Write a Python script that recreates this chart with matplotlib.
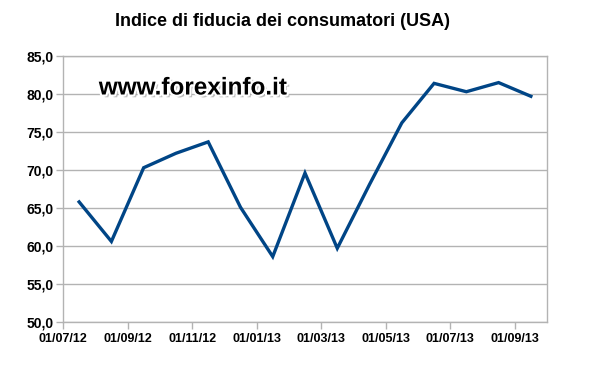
import matplotlib
matplotlib.use("Agg")
import matplotlib.pyplot as plt
import matplotlib.patheffects as pe

months = ["07/12", "08/12", "09/12", "10/12", "11/12", "12/12", "01/13", "02/13",
          "03/13", "04/13", "05/13", "06/13", "07/13", "08/13", "09/13"]
values = [65.8, 60.6, 70.3, 72.2, 73.7, 65.1, 58.6, 69.6, 59.7, 68.1, 76.2, 81.4, 80.3, 81.5, 79.7]
xtick_labels = ["01/07/12", "01/09/12", "01/11/12", "01/01/13", "01/03/13", "01/05/13", "01/07/13", "01/09/13"]
yticks = [50, 55, 60, 65, 70, 75, 80, 85]

plt.rcParams['font.family'] = ['Liberation Sans', 'DejaVu Sans']

fig = plt.figure(figsize=(5.98, 3.83), dpi=100)
ax = fig.add_axes([63/598, 1-322/383, (547-63)/598, (322-56)/383])

x = [i + 0.5 for i in range(len(values))]
ax.plot(x, values, color="#004586", linewidth=2.4, solid_joinstyle="miter")

ax.set_xlim(0, len(values))
ax.set_ylim(50, 85)
ax.set_xticks(list(range(0, 2*len(xtick_labels), 2)))
ax.set_xticklabels(xtick_labels, fontsize=9, fontweight="bold")
ax.set_yticks(yticks)
ax.set_yticklabels([f"{v:.1f}".replace(".", ",") for v in yticks], fontsize=10, fontweight="bold")
ax.yaxis.grid(True, color="#b3b3b3", linewidth=1)
ax.set_axisbelow(True)
for s in ax.spines.values():
    s.set_color("#b3b3b3")
    s.set_linewidth(1)
ax.tick_params(axis="both", color="#b3b3b3", length=5, width=1)
ax.tick_params(axis="x", pad=3)
ax.tick_params(axis="y", pad=2)

fig.text(0.473, 1-22/383, "Indice di fiducia dei consumatori (USA)", ha="center", va="center",
         fontsize=13, fontweight="bold")

ax.text(193/598, 1-88/383, "www.forexinfo.it", transform=fig.transFigure, ha="center", va="center",
        fontsize=17.5, fontweight="bold", color="black",
        path_effects=[pe.withSimplePatchShadow(offset=(2, -2), shadow_rgbFace="#999999", alpha=0.6),
                      pe.Stroke(linewidth=3, foreground="white"), pe.Normal()])

fig.savefig("out.png", dpi=100)
